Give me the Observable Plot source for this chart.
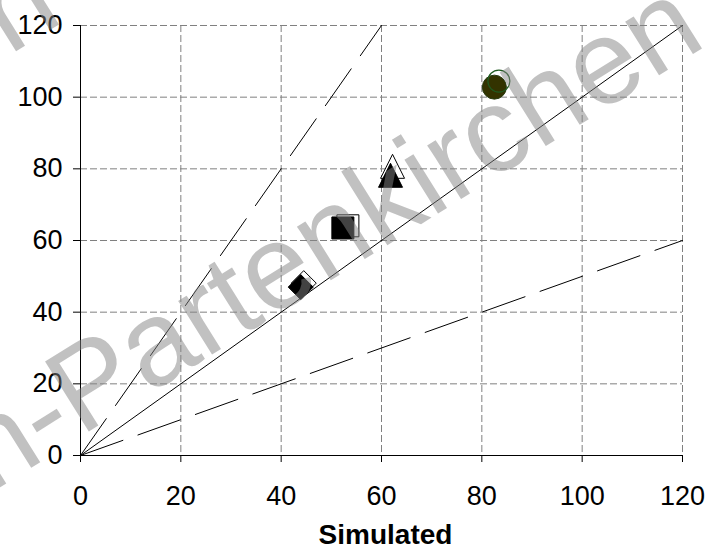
<!DOCTYPE html>
<html>
<head>
<meta charset="utf-8">
<script src="https://cdn.jsdelivr.net/npm/d3@7"></script>
<script src="https://cdn.jsdelivr.net/npm/@observablehq/plot@0.6"></script>
<style>
  html, body { margin: 0; padding: 0; background: #fff; overflow: hidden; }
</style>
</head>
<body>
<div id="chart"></div>
<script>
// Axis ticks
const xTicks = [0, 20, 40, 60, 80, 100, 120];
const yTicks = [0, 20, 40, 60, 80, 100, 120];
const xTitle = "Simulated";

// Marker series: one shape per site, filled and open variants
const markerShapes = ["diamond", "square", "triangle", "circle"];
const simulatedFilled = [43.9, 52.3, 61.8, 82.5];
const observedFilled  = [47.0, 63.5, 78.2, 102.8];
const simulatedOpen   = [44.5, 53.3, 62.2, 83.4];
const observedOpen    = [48.1, 64.1, 80.7, 104.5];

// Reference lines (1:1, 2:1, 1:2)
const line11Sim = [0, 120], line11Obs = [0, 120];
const line21Sim = [0, 60],  line21Obs = [0, 120];
const line12Sim = [0, 120], line12Obs = [0, 60];

const watermarkText = "Garmisch-Partenkirchen";

// Custom marker shapes; r is recovered from Plot's size = PI * r^2
const rOf = size => Math.sqrt(size / Math.PI);
const shapeSymbols = {
  diamond: {draw(c, size) { const r = rOf(size); c.moveTo(0, -r); c.lineTo(r, 0); c.lineTo(0, r); c.lineTo(-r, 0); c.closePath(); }},
  square: {draw(c, size) { const r = rOf(size); c.moveTo(-r, -r); c.lineTo(r, -r); c.lineTo(r, r); c.lineTo(-r, r); c.closePath(); }},
  triangle: {draw(c, size) { const r = rOf(size); c.moveTo(0, -r); c.lineTo(r, r); c.lineTo(-r, r); c.closePath(); }},
  circle: {draw(c, size) { const r = rOf(size); c.moveTo(r, 0); c.arc(0, 0, r, 0, 2 * Math.PI); }}
};
const filledR = {diamond: 12.5, square: 11, triangle: 12, circle: 12};
const openR = {diamond: 12.5, square: 11, triangle: 12, circle: 11};

const toLine = (xs, ys) => xs.map((x, i) => ({x, y: ys[i]}));
const idx = markerShapes.map((_, i) => i);

const font = "'Liberation Sans', Arial, Helvetica, sans-serif";

const openBack = idx.filter(i => markerShapes[i] !== "circle").map(i =>
  Plot.dot([i], {x: j => simulatedOpen[j], y: j => observedOpen[j],
    symbol: shapeSymbols[markerShapes[i]], r: openR[markerShapes[i]],
    fill: "white", stroke: "black", strokeWidth: 1}));

const filled = idx.map(i =>
  Plot.dot([i], {x: j => simulatedFilled[j], y: j => observedFilled[j],
    symbol: shapeSymbols[markerShapes[i]], r: filledR[markerShapes[i]],
    fill: markerShapes[i] === "circle" ? "#333300" : "black",
    stroke: markerShapes[i] === "circle" ? "#263a10" : "black", strokeWidth: 1}));

const openFront = idx.filter(i => markerShapes[i] === "circle").map(i =>
  Plot.dot([i], {x: j => simulatedOpen[j], y: j => observedOpen[j],
    symbol: shapeSymbols[markerShapes[i]], r: openR[markerShapes[i]],
    fill: "none", stroke: "#1f5a1f", strokeWidth: 1.2}));

// Diagonal watermark lettering, laid over the whole figure
const watermark = (dx, dy) => Plot.text([watermarkText], {text: d => d, frameAnchor: "top-left", dx, dy,
  rotate: -32, textAnchor: "end", lineAnchor: "bottom", fontSize: 120, fontFamily: font,
  fill: "#848484", fillOpacity: 0.5});

const chart = Plot.plot({
  width: 706,
  height: 556,
  marginLeft: 80,
  marginRight: 24,
  marginTop: 25,
  marginBottom: 101,
  style: {fontFamily: font, fontSize: "27px", color: "black", background: "white", overflow: "hidden"},
  x: {domain: [0, 120], ticks: xTicks, tickSize: 7, tickPadding: 23, label: null, tickFormat: d => String(d)},
  y: {domain: [0, 120], ticks: yTicks, tickSize: 7, tickPadding: 11, label: null, tickFormat: d => String(d)},
  marks: [
    // dashed grid
    Plot.ruleX(xTicks.filter(d => d > 0), {stroke: "#808080", strokeWidth: 1, strokeDasharray: "7,3"}),
    Plot.ruleY(yTicks.filter(d => d > 0), {stroke: "#808080", strokeWidth: 1, strokeDasharray: "7,3"}),
    // axis lines
    Plot.ruleX([0], {stroke: "black", strokeWidth: 1}),
    Plot.ruleY([0], {stroke: "black", strokeWidth: 1}),
    // reference lines
    Plot.line(toLine(line11Sim, line11Obs), {x: "x", y: "y", stroke: "black", strokeWidth: 1}),
    Plot.line(toLine(line21Sim, line21Obs), {x: "x", y: "y", stroke: "black", strokeWidth: 1, strokeDasharray: "45,16"}),
    Plot.line(toLine(line12Sim, line12Obs), {x: "x", y: "y", stroke: "black", strokeWidth: 1, strokeDasharray: "45,16"}),
    // markers
    ...openBack,
    ...filled,
    ...openFront,
    // x-axis title
    Plot.text([xTitle], {text: d => d, frameAnchor: "bottom", dx: 4, dy: 88, lineAnchor: "bottom",
      fontSize: 28, fontWeight: "bold", fontFamily: font, fill: "black"}),
    // watermark lines
    watermark(628, 19),
    watermark(-15, -5)
  ]
});
document.getElementById("chart").appendChild(chart);
</script>
</body>
</html>
